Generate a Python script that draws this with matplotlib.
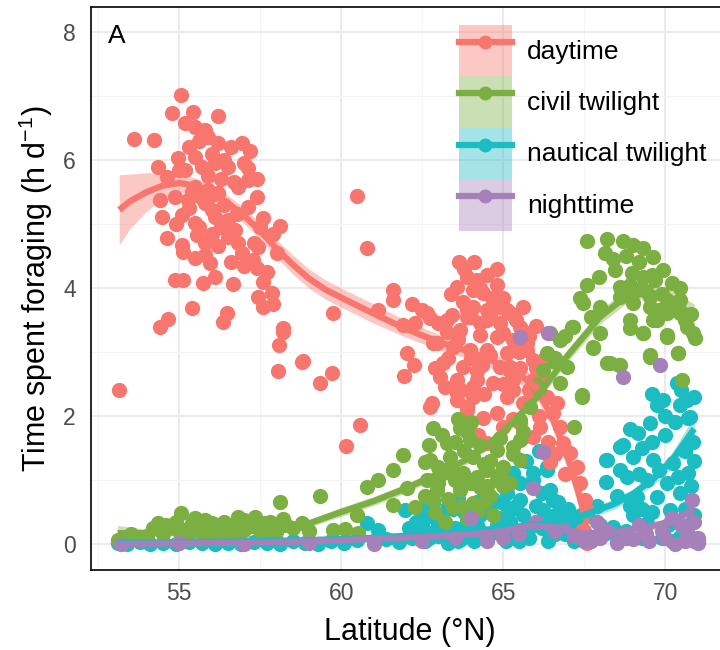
import matplotlib
matplotlib.use('Agg')
import matplotlib.pyplot as plt
from matplotlib.lines import Line2D
from matplotlib.patches import Patch
import numpy as np

plt.rcParams['font.family'] = ['Liberation Sans', 'DejaVu Sans']
plt.rcParams['mathtext.default'] = 'regular'

# colours of the four light periods
periods = ['daytime', 'civil twilight', 'nautical twilight', 'nighttime']
colors = ['#F8766D', '#7BAF41', '#1CBDC2', '#A680B9']

# ---- daytime points (latitude, h/day)
day_lat = [53.15, 53.61, 54.23, 55.06, 54.78, 55.43, 56.2, 55.19, 55.49, 55.8, 55.9, 56.2, 56.94, 57.19,
           54.97, 55.49, 54.35, 54.63, 55.19, 55.71, 56.11, 56.51, 57.13, 57.13, 56.82, 55.49, 55.9, 56.2,
           54.41, 54.88, 55.28, 55.8, 57.41, 57.13, 56.02, 54.48, 55.09, 55.49, 56.11, 56.51, 56.73, 57.5,
           58.12, 54.63, 55.56, 56.51, 56.82, 55.09, 55.12, 57.44, 56.94, 58.02, 55.49, 55.8, 55.96, 57.28,
           57.41, 54.88, 55.12, 55.74, 56.11, 56.67, 57.59, 57.87, 57.44, 57.59, 55.4, 56.48, 56.36, 54.66,
           54.41, 58.21,
           55.3, 55.6, 56.0, 56.4, 55.9, 56.3, 56.7, 55.4, 55.7, 56.0, 56.4, 56.8, 55.3, 55.6,
           56.0, 56.3, 55.8, 56.2, 56.6, 57.0, 57.3, 57.7, 57.9, 54.9, 55.0, 56.6, 57.0, 57.4,
           57.6, 57.9,
           58.21, 58.09, 58.06, 58.8, 59.35, 59.72, 62.04, 62.25, 61.94, 60.59, 60.15, 60.49, 60.8, 59.75,
           58.83, 61.14, 61.6, 61.6, 62.19, 62.5, 62.75, 61.91, 62.28,
           63.64, 63.89, 64.2, 63.58, 64.07, 64.38, 64.66, 63.77, 64.07, 64.91, 65.22, 63.43, 63.89, 64.51,
           64.91, 65.59, 63.27, 63.67, 64.29, 64.81, 65.31, 62.96, 63.46, 63.98, 64.51, 65.12, 65.74, 63.15,
           63.77, 64.35, 64.91, 65.52, 63.06, 63.58, 64.2, 64.69, 65.31, 65.93, 62.81, 63.58, 64.07, 65.12,
           63.89,
           62.65, 63.27, 64.51, 65.12, 65.52, 62.84, 65.74, 65.22, 65.93, 62.75, 63.58, 64.07, 65.31, 65.74,
           66.23, 66.36, 66.67, 63.89, 64.38, 65.0, 65.52, 64.23, 64.51, 65.93, 66.14, 66.54, 66.76, 66.85,
           67.07, 66.45, 67.28, 67.38, 67.53, 67.59, 67.47, 67.59,
           63.4, 63.8, 64.1, 64.5, 64.8, 65.0, 65.4, 65.8, 64.0, 64.6, 63.6, 64.3, 65.0, 65.5,
           66.0, 63.3, 64.0, 64.6, 65.2, 65.8, 63.7, 64.4, 65.0, 65.6, 66.1, 64.8, 65.3, 66.4,
           66.6, 66.9, 64.2, 63.2, 62.9, 63.0, 66.3, 66.0, 65.6, 64.8, 64.3, 63.9]
day_val = [2.41, 6.33, 6.31, 7.02, 6.73, 6.75, 6.69, 6.58, 6.52, 6.47, 6.36, 6.27, 6.27, 6.14,
           6.03, 6.05, 5.89, 5.73, 5.84, 5.89, 5.95, 5.89, 5.87, 5.69, 5.58, 5.58, 5.53, 5.48,
           5.38, 5.42, 5.38, 5.33, 5.42, 5.27, 5.22, 5.11, 5.14, 5.02, 5.11, 5.06, 4.91, 4.95,
           4.97, 4.78, 4.83, 4.8, 4.7, 4.67, 4.56, 4.64, 4.55, 4.55, 4.47, 4.52, 4.39, 4.44,
           4.31, 4.12, 4.12, 4.08, 4.17, 4.06, 4.09, 3.92, 3.86, 3.7, 3.69, 3.61, 3.47, 3.52,
           3.39, 3.38,
           6.2, 6.3, 6.1, 6.0, 5.75, 5.7, 5.65, 5.5, 5.4, 5.45, 5.3, 5.15, 5.25, 4.95,
           4.85, 4.95, 4.7, 4.65, 4.4, 4.35, 4.7, 4.25, 3.75, 5.0, 5.85, 6.2, 5.95, 5.7,
           5.1, 4.85,
           3.31, 3.11, 2.7, 2.84, 2.52, 2.67, 2.98, 2.8, 2.63, 1.86, 1.53, 5.44, 4.63, 3.61,
           2.86, 3.66, 3.97, 3.81, 3.75, 3.66, 3.53, 3.42, 3.45,
           4.41, 4.17, 4.13, 4.02, 3.97, 3.92, 3.84, 3.78, 3.7, 3.7, 3.61, 3.58, 3.55, 3.5,
           3.45, 3.34, 3.31, 3.34, 3.27, 3.23, 3.19, 3.14, 3.08, 3.03, 3.03, 2.98, 3.03, 2.83,
           2.77, 2.8, 2.77, 2.75, 2.61, 2.56, 2.56, 2.52, 2.56, 2.56, 2.2, 2.25, 2.3, 2.3,
           2.14,
           3.61, 3.5, 3.66, 3.66, 3.39, 3.14, 3.14, 2.77, 2.88, 2.14, 2.36, 2.45, 2.41, 2.2,
           2.56, 2.3, 2.2, 2.09, 1.97, 1.83, 1.89, 1.7, 1.58, 1.67, 1.83, 2.05, 1.83, 1.58,
           1.42, 1.28, 1.2, 0.95, 0.69, 0.53, 0.22, 0.02,
           3.9, 4.3, 4.4, 4.2, 4.05, 3.85, 3.5, 3.25, 3.55, 3.6, 3.2, 3.45, 3.3, 3.0,
           2.75, 2.9, 2.9, 2.95, 2.7, 2.4, 2.4, 2.35, 2.5, 2.2, 2.0, 2.05, 1.95, 1.6,
           1.4, 1.1, 2.7, 2.45, 2.75, 3.45, 2.9, 3.4, 3.7, 4.3, 4.0, 3.65]

# ---- civil twilight points
civ_lat = [53.12, 53.3, 53.6, 54.0, 54.35, 54.5, 54.78, 55.06, 55.0, 55.2, 55.4, 55.6, 55.71, 55.9,
           56.02, 56.2, 56.33, 56.5, 56.6, 56.82, 57.0, 57.1, 57.35, 57.5, 57.65, 57.8, 57.96, 58.12,
           58.21, 58.8, 59.35, 59.75, 60.12, 60.49, 60.52, 60.8, 61.14, 61.6, 61.91, 62.04, 61.6, 62.28,
           62.59, 54.2, 54.9, 55.3, 55.8, 56.1, 56.7, 57.2, 57.6, 58.0, 58.3,
           53.5, 54.6, 55.5, 56.4, 57.0, 57.8, 58.5, 59.0,
           62.84, 63.67, 63.27, 63.98, 62.75, 63.36, 64.07, 64.81, 65.31, 62.65, 63.15, 63.77, 64.51, 65.0,
           65.52, 62.96, 63.67, 64.29, 64.81, 63.46, 64.07, 64.23, 62.84, 65.52, 63.0, 63.5, 64.0, 64.4,
           63.8, 64.6, 65.0, 63.2, 63.9, 64.7,
           62.7, 63.1, 63.5, 63.9, 64.3, 64.6, 64.9, 63.0, 63.4, 63.8, 64.2, 64.5, 64.9, 65.2,
           63.3, 63.7, 64.4, 65.3, 62.6, 62.9, 64.0, 63.6, 65.6,
           67.2, 67.44, 66.45, 67.16, 67.78, 66.36, 66.23, 66.76, 65.83, 65.52, 68.21, 68.61, 68.92, 69.32,
           69.54, 70.06, 70.4, 69.63, 70.86, 70.52, 67.47, 67.99, 66.0, 66.6, 66.9, 67.7, 68.0,
           67.59, 68.21, 68.7, 69.01, 69.32, 69.63, 68.15, 69.94, 68.46, 68.98, 69.32, 69.69, 70.22, 70.46,
           67.96, 67.59, 67.38, 68.61, 69.14, 69.54, 70.06, 70.46, 68.61, 69.01, 69.54, 70.06, 70.46, 70.68,
           70.93, 70.06, 69.32, 68.92, 69.75, 69.54, 70.4, 67.13, 67.78, 68.3, 68.58, 66.76, 66.98, 67.44,
           66.1, 66.6, 68.4, 68.8, 69.2, 69.6, 69.9, 70.2, 70.6, 70.8, 68.9, 69.4, 69.8]
civ_val = [0.06, 0.1, 0.08, 0.12, 0.33, 0.15, 0.27, 0.48, 0.2, 0.12, 0.33, 0.2, 0.27, 0.15,
           0.33, 0.2, 0.27, 0.12, 0.3, 0.42, 0.22, 0.3, 0.42, 0.2, 0.33, 0.15, 0.27, 0.66,
           0.39, 0.33, 0.75, 0.22, 0.23, 0.45, 0.17, 0.89, 1.0, 1.16, 1.39, 0.88, 0.61, 0.58,
           1.28, 0.25, 0.35, 0.25, 0.38, 0.22, 0.18, 0.35, 0.25, 0.18, 0.3,
           0.15, 0.3, 0.4, 0.35, 0.38, 0.35, 0.25, 0.2,
           1.81, 1.81, 1.58, 1.62, 1.31, 1.36, 1.36, 1.47, 1.52, 1.0, 1.11, 1.11, 1.16, 1.2,
           1.31, 0.84, 0.84, 0.89, 1.0, 0.58, 0.64, 0.53, 0.69, 1.62, 1.2, 1.0, 0.95, 1.25,
           1.45, 0.75, 0.9, 0.35, 0.4, 0.45,
           1.55, 1.7, 1.6, 1.75, 1.55, 1.3, 1.65, 0.95, 1.2, 0.95, 1.05, 0.9, 1.1, 0.95,
           0.7, 0.6, 0.65, 1.4, 0.75, 0.5, 1.9, 1.95, 1.75,
           1.83, 2.3, 3.3, 3.39, 3.06, 2.98, 2.72, 2.52, 2.14, 1.94, 2.83, 2.8, 3.5, 3.3,
           2.92, 3.23, 2.98, 3.5, 3.3, 2.56, 3.77, 3.7, 2.5, 2.85, 3.25, 3.55, 3.3,
           4.73, 4.77, 4.73, 4.67, 4.62, 4.48, 4.55, 4.28, 4.28, 4.23, 4.17, 4.13, 4.08, 4.0,
           4.17, 4.05, 3.84, 4.02, 3.97, 3.86, 3.81, 3.81, 3.86, 3.77, 3.7, 3.61, 3.61, 3.39,
           3.22, 3.27, 3.3, 3.38, 3.5, 2.95, 2.98, 3.39, 3.08, 2.83, 2.8, 3.19, 2.77, 2.33,
           2.4, 2.9, 4.45, 4.5, 4.4, 4.2, 3.9, 3.75, 3.5, 3.6, 4.05, 3.95, 3.65]

# ---- nautical twilight points
nau_lat = [53.1, 53.4, 53.8, 54.1, 54.5, 54.9, 55.3, 55.7, 56.1, 56.5, 56.9, 57.3, 57.7, 58.1,
           58.5, 58.9, 59.3, 59.7, 60.1, 60.5, 60.8, 61.14, 61.0, 61.4, 61.8, 61.98, 62.38, 62.2,
           62.6, 62.65, 62.84, 63.0, 63.3, 63.5, 63.7, 63.46, 63.9, 64.1, 64.3, 64.5, 64.51, 64.6,
           64.8, 65.0, 65.1, 65.12, 65.22, 65.3, 65.31, 65.52, 65.52, 65.62, 65.8, 65.93, 65.93, 65.93,
           66.0, 66.23, 66.36, 66.36, 66.45, 66.54, 66.6, 66.98, 67.2, 67.5, 67.8, 68.0, 68.18, 68.18,
           68.21, 68.4, 68.5, 68.61, 68.7, 68.83, 69.01, 69.14, 69.17, 69.44, 69.44, 69.54, 69.63, 69.75,
           69.75, 69.9, 69.94, 70.06, 70.15, 70.25, 70.37, 70.46, 70.46, 70.46, 70.68, 70.71, 70.71, 70.77,
           70.86, 70.9, 71.0, 69.3, 68.9, 67.0, 66.8, 64.0, 63.2, 62.5, 62.9, 63.6, 64.2, 64.9,
           65.6, 66.2,
           62.3, 62.7, 63.1, 63.4, 63.8, 64.2, 64.6, 65.0, 65.4, 65.8, 66.2, 66.6, 66.9, 67.3,
           64.4, 65.7, 66.1, 63.6, 65.5, 66.4, 67.6,
           68.6, 68.9, 69.3, 69.6, 70.0, 70.3, 70.6, 70.9, 69.2, 69.8, 70.4, 70.8, 68.5, 69.0,
           69.6, 70.1, 70.6, 68.8, 69.3, 70.2, 70.7, 68.1, 67.9, 70.0, 70.5, 69.6, 70.9,
           62.1, 62.5, 63.0, 63.3, 63.9, 64.3, 64.7, 65.2, 65.6, 66.0, 66.4, 66.7, 67.1, 67.4]
nau_val = [0.02, 0.0, 0.03, 0.0, 0.02, 0.0, 0.03, 0.01, 0.0, 0.02, 0.0, 0.03, 0.01, 0.0,
           0.04, 0.02, 0.0, 0.05, 0.02, 0.06, 0.33, 0.22, 0.05, 0.08, 0.03, 0.53, 0.17, 0.1,
           0.04, 0.42, 0.64, 0.12, 0.02, 0.25, 0.08, 0.55, 0.35, 0.05, 0.2, 0.1, 0.58, 0.58,
           0.3, 0.64, 0.05, 0.8, 0.53, 0.2, 1.11, 0.95, 0.69, 1.67, 0.1, 1.11, 0.89, 1.0,
           0.35, 0.53, 1.2, 1.16, 0.84, 0.69, 0.15, 0.38, 0.05, 0.2, 0.1, 0.3, 1.31, 0.97,
           1.31, 0.27, 0.05, 1.52, 1.55, 1.05, 1.36, 0.73, 1.73, 1.0, 0.33, 1.89, 1.31, 0.73,
           2.17, 0.1, 2.25, 0.95, 0.53, 1.27, 2.52, 2.17, 0.8, 0.11, 2.25, 1.97, 1.11, 1.98,
           1.59, 0.45, 0.05, 0.55, 0.6, 0.55, 0.25, 0.45, 0.3, 0.3, 0.2, 0.7, 0.65, 0.4,
           0.45, 0.25,
           0.35, 0.1, 0.45, 0.15, 0.5, 0.3, 0.15, 0.3, 0.6, 0.25, 0.8, 0.45, 0.15, 0.3,
           0.8, 1.3, 1.45, 0.05, 0.05, 0.05, 0.45,
           1.15, 1.8, 1.5, 1.6, 1.7, 1.9, 1.45, 1.3, 1.1, 1.15, 1.05, 0.9, 0.75, 0.45,
           0.5, 0.3, 0.55, 0.2, 0.1, 0.05, 0.3, 0.15, 0.6, 2.0, 2.4, 2.35, 2.3,
           0.25, 0.55, 0.3, 0.6, 0.15, 0.45, 0.7, 0.35, 0.15, 0.6, 0.35, 0.65, 0.2, 0.45]

# ---- nighttime points
nig_lat = [53.2, 55.0, 57.0, 59.0, 61.0, 62.5, 63.5, 64.5, 65.5, 65.93, 66.23, 66.39, 65.52, 66.8,
           67.5, 68.0, 68.5, 68.7, 69.0, 69.5, 69.85, 70.0, 70.3, 70.5, 70.83, 70.9, 71.0, 70.7,
           69.2, 67.9, 64.0,
           65.0, 66.0, 66.6, 67.2, 67.7, 68.2, 68.8, 69.4, 69.9, 70.2, 70.6, 70.9, 71.0]
nig_val = [0.0, 0.01, 0.0, 0.02, 0.0, 0.05, 0.1, 0.05, 0.15, 0.88, 1.44, 3.3, 3.23, 0.3,
           0.05, 0.1, 0.02, 2.61, 0.08, 0.05, 2.8, 0.1, 0.0, 0.3, 0.69, 0.05, 0.02, 0.15,
           0.3, 0.35, 0.4,
           0.1, 0.35, 0.2, 0.12, 0.05, 0.2, 0.1, 0.15, 0.2, 0.4, 0.05, 0.35, 0.1]

# ---- smoothed fits with their ribbons (half width)
day_fit_lat = [53.15, 53.5, 54, 54.5, 55, 55.5, 56, 56.5, 57, 57.5, 58, 58.5, 59, 59.5, 60, 61, 62,
               63, 64, 64.5, 65, 65.5, 66, 66.5, 67, 67.3, 67.6]
day_fit = [5.22, 5.36, 5.5, 5.6, 5.64, 5.6, 5.5, 5.33, 5.13, 4.89, 4.62, 4.37, 4.15, 3.98, 3.85, 3.6,
           3.36, 3.16, 3.0, 2.9, 2.78, 2.65, 2.45, 2.0, 1.35, 0.85, 0.3]
day_se = [0.55, 0.42, 0.3, 0.2, 0.14, 0.12, 0.12, 0.12, 0.12, 0.13, 0.14, 0.15, 0.15, 0.15, 0.15,
          0.15, 0.13, 0.12, 0.12, 0.12, 0.13, 0.14, 0.15, 0.17, 0.2, 0.22, 0.25]

civ_fit_lat = [53.1, 54, 55, 56, 57, 58, 59, 60, 61, 62, 63, 64, 65, 66, 67, 68, 69, 70, 70.9]
civ_fit = [0.17, 0.17, 0.18, 0.19, 0.2, 0.22, 0.32, 0.5, 0.67, 0.87, 1.1, 1.35, 1.75, 2.27, 2.95,
           3.55, 3.95, 3.9, 3.55]
civ_se = [0.12, 0.06, 0.04, 0.04, 0.04, 0.05, 0.06, 0.07, 0.07, 0.07, 0.07, 0.07, 0.08, 0.09, 0.1,
          0.11, 0.11, 0.12, 0.2]

nau_fit_lat = [53.1, 55, 57, 59, 61, 63, 64, 65, 66, 66.7, 67.5, 68.4, 69, 69.6, 70.2, 70.9]
nau_fit = [0.02, 0.03, 0.04, 0.06, 0.1, 0.16, 0.2, 0.25, 0.3, 0.36, 0.45, 0.62, 0.78, 1.0, 1.3, 1.8]
nau_se = [0.05, 0.03, 0.03, 0.03, 0.04, 0.05, 0.05, 0.06, 0.06, 0.07, 0.07, 0.08, 0.08, 0.09, 0.12, 0.2]

nig_fit_lat = [53.1, 55, 57, 59, 61, 62.5, 64, 65, 65.8, 66.5, 67.4, 68.2, 68.9, 69.5, 70.1, 70.9]
nig_fit = [0.0, 0.01, 0.02, 0.04, 0.08, 0.11, 0.15, 0.2, 0.29, 0.27, 0.17, 0.17, 0.22, 0.27, 0.34, 0.53]
nig_se = [0.04, 0.02, 0.02, 0.02, 0.03, 0.03, 0.04, 0.04, 0.05, 0.05, 0.05, 0.05, 0.05, 0.06, 0.07, 0.12]

points = [(day_lat, day_val), (civ_lat, civ_val), (nau_lat, nau_val), (nig_lat, nig_val)]
fits = [(day_fit_lat, day_fit, day_se), (civ_fit_lat, civ_fit, civ_se),
        (nau_fit_lat, nau_fit, nau_se), (nig_fit_lat, nig_fit, nig_se)]
point_z = [3, 4, 2, 5]

fig = plt.figure(figsize=(7.2, 6.5), dpi=100)
ax = fig.add_axes([91/720, 80/650, 637/720, 563/650])

for (x, y), c, z in zip(points, colors, point_z):
    ax.plot(x, y, 'o', color=c, ms=11, mec='none', zorder=z)

for i, ((x, y, se), c) in enumerate(zip(fits, colors)):
    x = np.array(x); y = np.array(y); se = np.array(se)
    ax.fill_between(x, y - se, y + se, color=c, alpha=0.4, lw=0, zorder=6 + i)
    ax.plot(x, y, color=c, lw=4.5, solid_capstyle='butt', zorder=6.5 + i)

ax.set_xlim(52.28, 71.94)
ax.set_ylim(-0.406, 8.39)
ax.set_xticks([55, 60, 65, 70])
ax.set_yticks([0, 2, 4, 6, 8])
ax.set_xticks([52.5, 57.5, 62.5, 67.5], minor=True)
ax.set_yticks([1, 3, 5, 7], minor=True)
ax.grid(which='major', color='#EBEBEB', lw=1.4, zorder=0)
ax.grid(which='minor', color='#F4F4F4', lw=0.8, zorder=0)
ax.set_axisbelow(True)
ax.tick_params(which='both', length=0)
ax.tick_params(axis='both', labelsize=16.5, labelcolor='#4D4D4D')
ax.tick_params(axis='x', pad=9)
ax.tick_params(axis='y', pad=11)
for side in ['left', 'bottom', 'top', 'right']:
    ax.spines[side].set_color('black')
    ax.spines[side].set_linewidth(1.2)

ax.set_xlabel('Latitude (°N)', fontsize=22, labelpad=8)
ax.set_ylabel('Time spent foraging (h d$^{-1}$)', fontsize=22, labelpad=6)
ax.text(0.0267, 0.936, 'A', transform=ax.transAxes, fontsize=19, va='baseline', ha='left')

handles = [(Patch(facecolor=c, alpha=0.4, edgecolor='none'),
            Line2D([], [], color=c, lw=4.5, marker='o', ms=10, mec='none')) for c in colors]
ax.legend(handles, periods, loc='upper left', bbox_to_anchor=(0.5777, 0.968), frameon=False,
          fontsize=19, handlelength=2.0, handleheight=2.62, labelspacing=0, handletextpad=0.57,
          borderpad=0, borderaxespad=0, numpoints=1)

fig.savefig('out.png', dpi=100)
